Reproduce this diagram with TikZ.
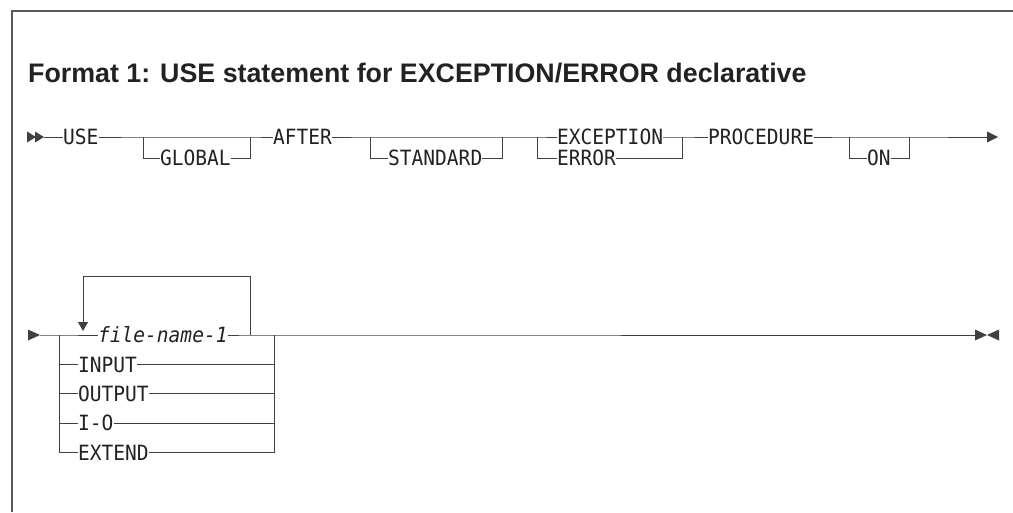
\documentclass[tikz,border=0pt]{standalone}
\usepackage{fontspec}
\setmainfont{Liberation Sans}
\newfontfamily\kwfont[FakeStretch=0.93]{DejaVu Sans Mono}
\newfontfamily\titlefont{Liberation Sans}
\usetikzlibrary{arrows.meta}
\definecolor{linec}{HTML}{404040}
\definecolor{txtc}{HTML}{222222}
\definecolor{framec}{HTML}{5A5A5A}
\tikzset{
  rr/.style={line width=1pt, draw=linec},
  kw/.style={font=\kwfont\fontsize{21}{22}\selectfont, inner sep=0pt, anchor=west,
             text height=15.3pt, text depth=0pt, text=txtc},
  var/.style={kw, font=\kwfont\itshape\fontsize{21}{22}\selectfont},
  tri/.style={fill=linec, draw=none},
  framel/.style={line width=1.5pt, draw=framec},
  titlest/.style={font=\titlefont\bfseries\fontsize{26.8}{30}\selectfont, inner sep=0pt,
             anchor=base west, text=txtc}
}
\begin{document}
\begin{tikzpicture}[x=1pt,y=-1pt]
\useasboundingbox (0,0) rectangle (1013,512);
% frame
\coordinate (fa) at (12,512);
\coordinate (fb) at (12,11);
\coordinate (fc) at (1013,11);
\draw[framel] (fa) -- (fb) -- (fc);
% title
\node[titlest] (title) at (28,82) {Format 1: USE statement for EXCEPTION/ERROR declarative};

% ---------- row 1 ----------
\fill[tri] (27,131.5) -- (36,137) -- (27,142.5) -- cycle;
\fill[tri] (35,131.5) -- (44,137) -- (35,142.5) -- cycle;
\coordinate (a1) at (44,137);
\node[kw] (use) at (63,137) {USE};
\coordinate (g1) at (143,137);
\coordinate (g2) at (250,137);
\node[kw] (global) at (160,158) {GLOBAL};
\node[kw] (after) at (273,137) {AFTER};
\coordinate (s1) at (370,137);
\coordinate (s2) at (502,137);
\node[kw] (standard) at (388,158) {STANDARD};
\coordinate (e1) at (537,137);
\coordinate (e2) at (682,137);
\node[kw] (exception) at (557,137) {EXCEPTION};
\node[kw] (error) at (557,158) {ERROR};
\node[kw] (procedure) at (708,137) {PROCEDURE};
\coordinate (o1) at (849,137);
\coordinate (o2) at (909,137);
\node[kw] (on) at (867,158) {ON};
\coordinate (z1) at (988,137);

\draw[rr] (a1) -- (use);
\draw[rr] (use) -- (g1) -- (g2) -- (after);
\draw[rr] (g1) |- (global.west);
\draw[rr] (global.east) -| (g2);
\draw[rr] (after) -- (s1) -- (s2) -- (e1) -- (exception);
\draw[rr] (s1) |- (standard.west);
\draw[rr] (standard.east) -| (s2);
\draw[rr] (e1) |- (error.west);
\draw[rr] (exception.east) -- (e2) -- (procedure);
\draw[rr] (error.east) -| (e2);
\draw[rr] (procedure) -- (o1) -- (o2) -- (z1);
\draw[rr] (o1) |- (on.west);
\draw[rr] (on.east) -| (o2);
\fill[tri] (987,131.5) -- (998,137) -- (987,142.5) -- cycle;

% ---------- row 2 ----------
\fill[tri] (28,329.5) -- (40,335) -- (28,340.5) -- cycle;
\coordinate (st2) at (40,335);
\coordinate (c1) at (59,335);
\coordinate (c2) at (274,335);
\node[var] (fn) at (98,335) {file-name-1};
\node[kw] (input) at (78,364.4) {INPUT};
\node[kw] (output) at (78,393.8) {OUTPUT};
\node[kw] (io) at (78,423.2) {I-O};
\node[kw] (extend) at (78,452.6) {EXTEND};
\coordinate (l1) at (250,335);
\coordinate (la) at (250,276);
\coordinate (lb) at (83,276);
\coordinate (lc) at (83,331);
\coordinate (z2) at (975,335);

\draw[rr] (st2) -- (c1) -- (fn);
\draw[rr] (c1) |- (extend.west);
\draw[rr] (input.west -| c1) -- (input.west);
\draw[rr] (output.west -| c1) -- (output.west);
\draw[rr] (io.west -| c1) -- (io.west);
\draw[rr] (fn.east) -- (l1) -- (c2) -- (z2);
\draw[rr] (extend.east) -| (c2);
\draw[rr] (input.east) -- (input.east -| c2);
\draw[rr] (output.east) -- (output.east -| c2);
\draw[rr] (io.east) -- (io.east -| c2);
\draw[rr, -{Triangle[width=10pt,length=9pt]}] (l1) -- (la) -- (lb) -- (lc);
\fill[tri] (975,329.5) -- (987,335) -- (975,340.5) -- cycle;
\fill[tri] (999,329.5) -- (987,335) -- (999,340.5) -- cycle;
\end{tikzpicture}
\end{document}
